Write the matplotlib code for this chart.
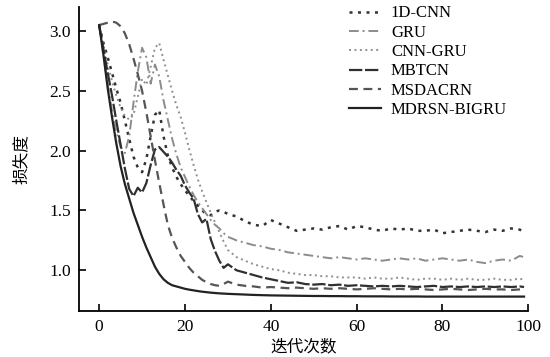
import matplotlib
matplotlib.use('Agg')
import matplotlib.pyplot as plt
import numpy as np

# iterations: every step to 30, then every 2 steps
iters = list(range(0, 31)) + list(range(32, 99, 2)) + [99]

cnn_1d = [3.05, 2.9, 2.78, 2.65, 2.52, 2.4, 2.25, 2.1, 1.95, 1.86, 1.82, 1.93, 2.12, 2.3, 2.34,
          2.12, 1.96, 1.86, 1.78, 1.72, 1.67, 1.62, 1.58, 1.54, 1.5, 1.47, 1.46, 1.49, 1.5, 1.49, 1.47,
          1.45, 1.41, 1.38, 1.37, 1.42, 1.39, 1.36, 1.33, 1.34, 1.35, 1.34, 1.36, 1.37, 1.34, 1.37,
          1.36, 1.34, 1.33, 1.35, 1.34, 1.35, 1.33, 1.33, 1.34, 1.31, 1.32, 1.33, 1.34, 1.33, 1.32,
          1.34, 1.33, 1.35, 1.34, 1.32]
gru = [3.05, 2.8, 2.55, 2.33, 2.16, 2.03, 1.98, 2.12, 2.4, 2.66, 2.86, 2.78, 2.56, 2.72, 2.62,
       2.42, 2.26, 2.1, 1.97, 1.86, 1.78, 1.7, 1.63, 1.57, 1.52, 1.47, 1.42, 1.38, 1.35, 1.31, 1.28,
       1.25, 1.23, 1.21, 1.2, 1.18, 1.17, 1.15, 1.14, 1.13, 1.12, 1.11, 1.1, 1.11, 1.1, 1.09, 1.1,
       1.09, 1.08, 1.09, 1.1, 1.09, 1.1, 1.08, 1.09, 1.1, 1.09, 1.08, 1.09, 1.07, 1.06, 1.08, 1.09,
       1.08, 1.12, 1.11]
cnn_gru = [3.05, 2.88, 2.72, 2.58, 2.46, 2.36, 2.29, 2.26, 2.3, 2.45, 2.6, 2.55, 2.7, 2.86, 2.9,
           2.76, 2.63, 2.5, 2.38, 2.28, 2.15, 2.01, 1.88, 1.76, 1.66, 1.57, 1.48, 1.4, 1.32, 1.24, 1.17,
           1.11, 1.08, 1.05, 1.03, 1.01, 1.0, 0.98, 0.97, 0.96, 0.96, 0.95, 0.95, 0.94, 0.94, 0.94,
           0.93, 0.94, 0.93, 0.93, 0.94, 0.93, 0.92, 0.93, 0.93, 0.92, 0.93, 0.92, 0.93, 0.92, 0.92,
           0.93, 0.92, 0.92, 0.93, 0.92]
mbtcn = [3.05, 2.85, 2.65, 2.46, 2.25, 2.05, 1.85, 1.68, 1.62, 1.69, 1.65, 1.73, 1.88, 2.01, 2.03,
         1.99, 1.95, 1.9, 1.84, 1.79, 1.71, 1.65, 1.6, 1.47, 1.4, 1.43, 1.26, 1.16, 1.08, 1.02, 1.05,
         1.0, 0.98, 0.96, 0.94, 0.925, 0.91, 0.895, 0.9, 0.885, 0.88, 0.885, 0.875, 0.88, 0.87, 0.875,
         0.87, 0.865, 0.87, 0.865, 0.87, 0.865, 0.86, 0.865, 0.87, 0.86, 0.865, 0.86, 0.865, 0.86,
         0.865, 0.86, 0.865, 0.86, 0.865, 0.86]
msdacrn = [3.05, 3.06, 3.07, 3.08, 3.07, 3.04, 2.98, 2.89, 2.77, 2.64, 2.5, 2.32, 2.12, 1.92, 1.73,
           1.55, 1.38, 1.27, 1.19, 1.12, 1.07, 1.02, 0.98, 0.95, 0.92, 0.9, 0.885, 0.875, 0.87, 0.885,
           0.905, 0.88, 0.87, 0.865, 0.855, 0.86, 0.855, 0.85, 0.855, 0.85, 0.845, 0.85, 0.845, 0.85,
           0.845, 0.84, 0.845, 0.85, 0.845, 0.84, 0.845, 0.84, 0.845, 0.84, 0.835, 0.84, 0.845, 0.84,
           0.835, 0.84, 0.845, 0.84, 0.84, 0.835, 0.84, 0.84]
mdrsn_bigru = [3.05, 2.8, 2.52, 2.28, 2.06, 1.87, 1.72, 1.6, 1.48, 1.38, 1.28, 1.19, 1.11, 1.03, 0.97,
               0.925, 0.895, 0.875, 0.865, 0.855, 0.845, 0.838, 0.832, 0.826, 0.821, 0.817, 0.813,
               0.81, 0.807, 0.805, 0.803, 0.8, 0.797, 0.794, 0.792, 0.79, 0.789, 0.788, 0.787, 0.786,
               0.785, 0.785, 0.784, 0.784, 0.783, 0.783, 0.782, 0.782, 0.782, 0.781, 0.781, 0.781,
               0.781, 0.78, 0.78, 0.78, 0.78, 0.78, 0.78, 0.78, 0.78, 0.78, 0.78, 0.78, 0.78, 0.78]

labels = ['1D-CNN', 'GRU', 'CNN-GRU', 'MBTCN', 'MSDACRN', 'MDRSN-BIGRU']
series = [cnn_1d, gru, cnn_gru, mbtcn, msdacrn, mdrsn_bigru]
styles = [
    dict(color='#333333', lw=1.8, ls=(0, (1.2, 2.2))),
    dict(color='#8c8c8c', lw=1.4, ls=(0, (5, 2, 1, 2))),
    dict(color='#8f8f8f', lw=1.4, ls=(0, (1, 1.8))),
    dict(color='#303030', lw=1.6, ls=(0, (6, 1.2))),
    dict(color='#555555', lw=1.6, ls=(0, (4, 2.5))),
    dict(color='#222222', lw=1.6, ls='-'),
]

plt.rcParams['font.family'] = ['Liberation Serif', 'Noto Sans CJK SC']
plt.rcParams['font.size'] = 12

fig = plt.figure(figsize=(5.5, 3.57), dpi=100)
ax = fig.add_axes([0.1436, 0.129, 0.817, 0.851])

for y, lab, st in zip(series, labels, styles):
    ax.plot(iters, y, label=lab, **st)

ax.set_xlim(-4.7, 100)
ax.set_ylim(0.66, 3.2)
ax.set_xticks([0, 20, 40, 60, 80, 100])
ax.set_yticks([1.0, 1.5, 2.0, 2.5, 3.0])
ax.yaxis.set_major_formatter(matplotlib.ticker.FormatStrFormatter('%.1f'))
ax.tick_params(direction='in', length=5, width=1.2, labelsize=12.5, pad=6)
for s in ['top', 'right']:
    ax.spines[s].set_visible(False)
for s in ['left', 'bottom']:
    ax.spines[s].set_linewidth(1.3)

ax.set_xlabel('迭代次数', family=['Noto Sans CJK SC'], fontsize=12, labelpad=2)
ax.set_ylabel('损失度', family=['Noto Sans CJK SC'], fontsize=12, labelpad=14)

leg = ax.legend(loc='upper left', bbox_to_anchor=(0.635, 0.985), bbox_transform=fig.transFigure,
                frameon=False, fontsize=12, handlelength=1.9, handletextpad=0.6,
                labelspacing=0.2, borderpad=0, borderaxespad=0)

fig.savefig('out.png', dpi=100)
